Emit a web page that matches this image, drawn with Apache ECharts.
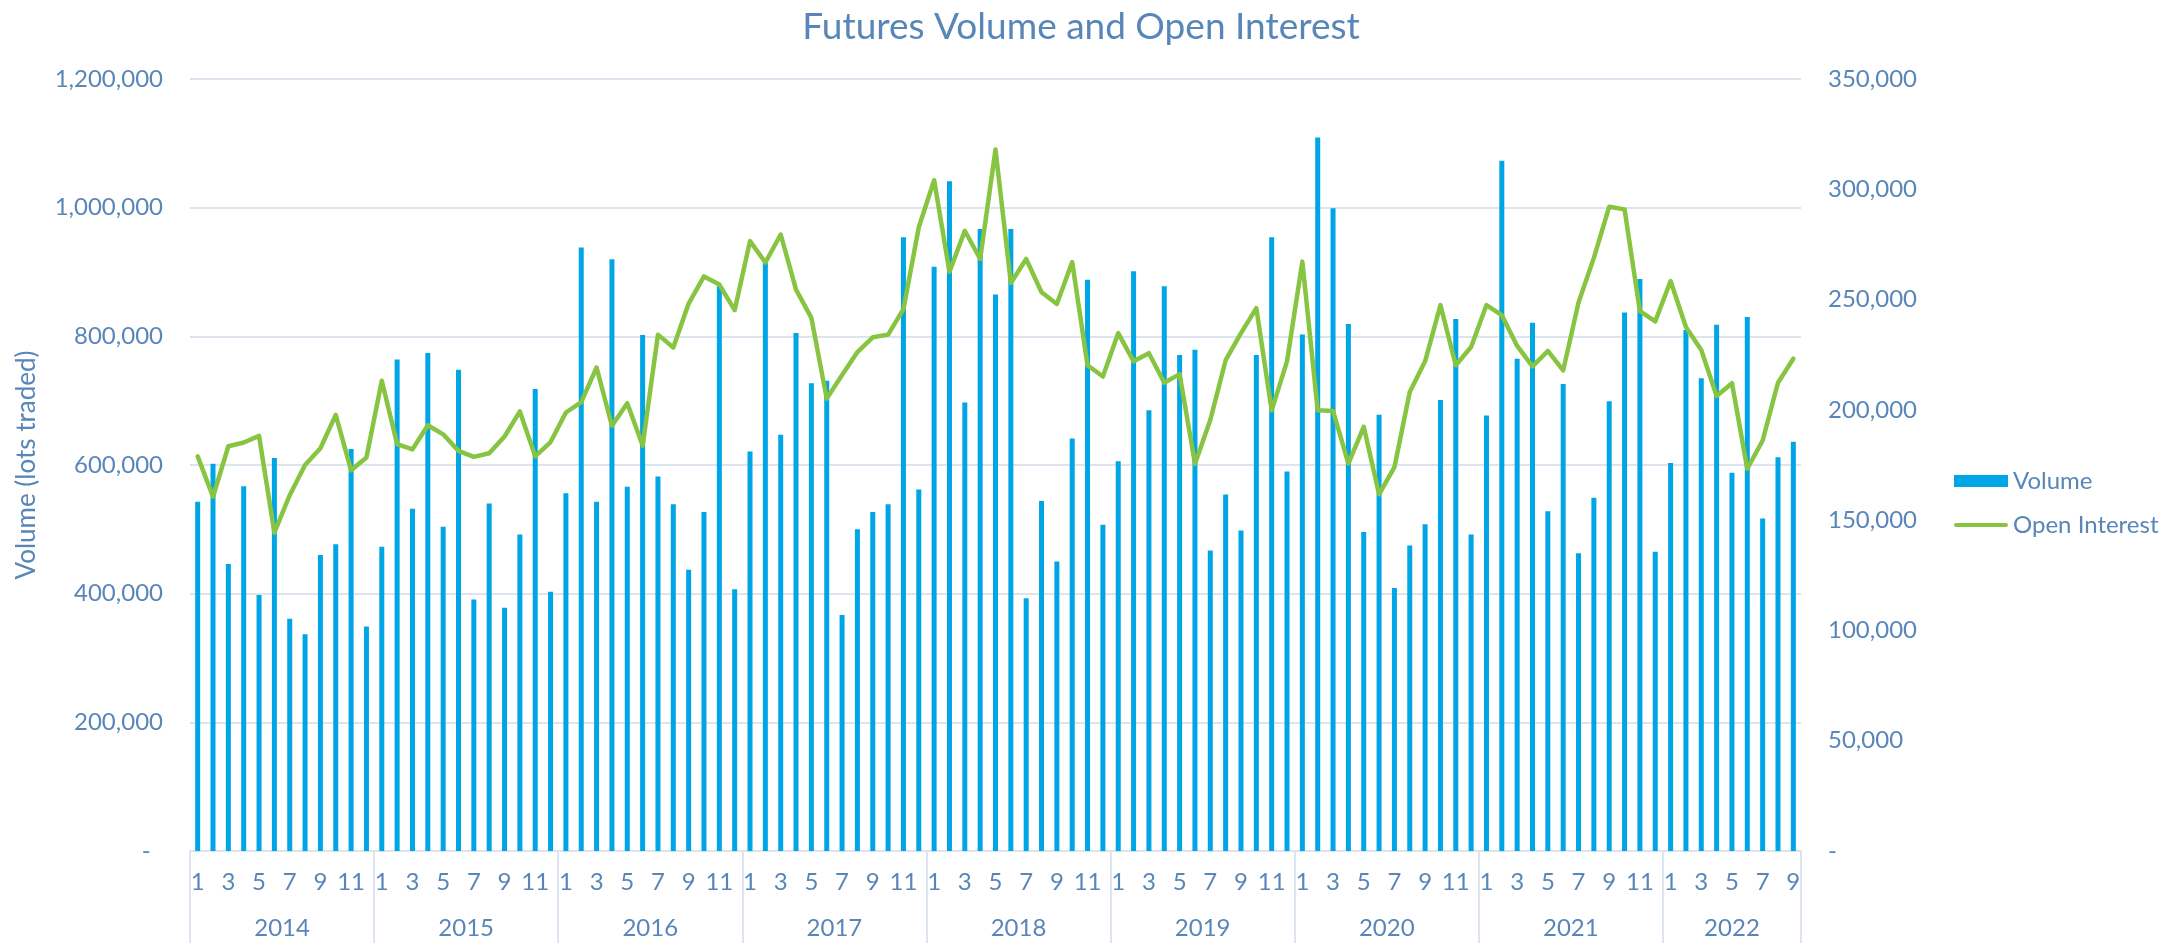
<!DOCTYPE html>
<html>
<head>
<meta charset="utf-8">
<title>Futures Volume and Open Interest</title>
<script src="https://cdn.jsdelivr.net/npm/echarts@6/dist/echarts.min.js"></script>
<style>
  html, body { margin: 0; padding: 0; background: #ffffff; }
  #chart { width: 2183px; height: 943px; }
</style>
</head>
<body>
<div id="chart"></div>
<script>
// Years covered and number of months reported in each
const years = [2014, 2015, 2016, 2017, 2018, 2019, 2020, 2021, 2022];
const monthsInYear = [12, 12, 12, 12, 12, 12, 12, 12, 9];

// Monthly futures volume (lots traded), Jan 2014 - Sep 2022
const volume2014 = [543000, 602000, 446000, 567000, 398000, 611000, 361000, 337000, 460000, 477000, 625000, 349000];
const volume2015 = [473000, 764000, 532000, 774000, 504000, 748000, 391000, 540000, 378000, 492000, 718000, 403000];
const volume2016 = [556000, 938000, 543000, 920000, 566000, 802000, 582000, 539000, 437000, 527000, 878000, 407000];
const volume2017 = [621000, 914000, 647000, 805000, 727000, 731000, 367000, 500000, 527000, 539000, 954000, 562000];
const volume2018 = [908000, 1041000, 697000, 967000, 865000, 967000, 393000, 544000, 450000, 641000, 888000, 507000];
const volume2019 = [606000, 901000, 685000, 878000, 771000, 779000, 467000, 554000, 498000, 771000, 954000, 590000];
const volume2020 = [803000, 1109000, 999000, 819000, 496000, 678000, 409000, 475000, 508000, 701000, 827000, 492000];
const volume2021 = [677000, 1073000, 765000, 821000, 528000, 726000, 463000, 549000, 699000, 837000, 889000, 465000];
const volume2022 = [603000, 810000, 735000, 818000, 588000, 830000, 517000, 612000, 636000];

// Month-end open interest, Jan 2014 - Sep 2022
const openInterest2014 = [178900, 160600, 183500, 185200, 188200, 144300, 161300, 175000, 182600, 197700, 172600, 178400];
const openInterest2015 = [213200, 184500, 182100, 193000, 188900, 181400, 178700, 180300, 187900, 199300, 178900, 185400];
const openInterest2016 = [198800, 203500, 219200, 192800, 203000, 183800, 234100, 228300, 248200, 260500, 256800, 245200];
const openInterest2017 = [276500, 266800, 279500, 254500, 241700, 205100, 215800, 226200, 232900, 234100, 245700, 282800];
const openInterest2018 = [304100, 262600, 281200, 268400, 318000, 257500, 268400, 253300, 248000, 267000, 220200, 215100];
const openInterest2019 = [234800, 222000, 225700, 212300, 216200, 175600, 195400, 222500, 234800, 246100, 199800, 222000];
const openInterest2020 = [267200, 199800, 199500, 175600, 192300, 161700, 174000, 208100, 222000, 247500, 220200, 228500];
const openInterest2021 = [247500, 242900, 229000, 219700, 226700, 217900, 248700, 268900, 292100, 290900, 244800, 240100];
const openInterest2022 = [258400, 237600, 227100, 206300, 212100, 173300, 186100, 212300, 223200];

// Axis tick values
const volumeTicks = [0, 200000, 400000, 600000, 800000, 1000000, 1200000];
const interestTicks = [0, 50000, 100000, 150000, 200000, 250000, 300000, 350000];

const volume = [].concat(volume2014, volume2015, volume2016, volume2017, volume2018,
  volume2019, volume2020, volume2021, volume2022);
const openInterest = [].concat(openInterest2014, openInterest2015, openInterest2016, openInterest2017,
  openInterest2018, openInterest2019, openInterest2020, openInterest2021, openInterest2022);

// Two-level category labels: month number, and the year it belongs to
const monthLabels = [];
const yearLabels = [];
const yearLabelAt = {};   // index -> { year, between } where the year label is drawn
years.forEach(function (y, k) {
  const start = monthLabels.length;
  const n = monthsInYear[k];
  for (let m = 1; m <= n; m++) {
    monthLabels.push(String(m));
    yearLabels.push(String(y));
  }
  if (n % 2 === 0) {
    yearLabelAt[start + n / 2] = { year: String(y), between: true };
  } else {
    yearLabelAt[start + (n - 1) / 2] = { year: String(y), between: false };
  }
});
const yearStart = {};
(function () {
  let s = 0;
  monthsInYear.forEach(function (n) { yearStart[s] = true; s += n; });
})();

const TEXT = '#5886B8';
const GRID = '#DBE4EF';
const FONT = 'Lato';
const W = 2183;
const gridLeft = 190, gridRight = 382;
const band = (W - gridLeft - gridRight) / monthLabels.length;

function thousands(v) {
  return v.toLocaleString('en-US');
}

const chart = echarts.init(document.getElementById('chart'), null, { renderer: 'canvas' });

chart.setOption({
  animation: false,
  backgroundColor: '#ffffff',
  title: {
    text: 'Futures Volume and Open Interest',
    left: 1076,
    top: 4,
    textAlign: 'center',
    textStyle: { fontFamily: FONT, fontSize: 37, fontWeight: 'normal', color: TEXT }
  },
  legend: {
    orient: 'vertical',
    left: 1949,
    top: 464,
    itemWidth: 54,
    itemHeight: 12,
    itemGap: 20,
    textStyle: { fontFamily: FONT, fontSize: 24, color: TEXT },
    data: [
      { name: 'Volume', icon: 'rect' },
      // thick rounded stroke for the line series key
      { name: 'Open Interest', icon: 'path://M2.2,0 L53.8,0 A2.2,2.2 0 0 1 53.8,4.4 L2.2,4.4 A2.2,2.2 0 0 1 2.2,0 Z' }
    ]
  },
  grid: {
    left: gridLeft,
    right: gridRight,
    top: 79,
    bottom: 92,
    containLabel: false,
    outerBoundsMode: 'none'
  },
  xAxis: [
    {
      type: 'category',
      position: 'bottom',
      data: monthLabels,
      boundaryGap: true,
      axisLine: { show: true, lineStyle: { color: GRID, width: 2 } },
      axisTick: {
        show: true,
        interval: function (index) { return yearStart[index] === true; },
        length: 92,
        lineStyle: { color: GRID, width: 2 }
      },
      axisLabel: {
        interval: 1,
        margin: 19,
        fontFamily: FONT,
        fontSize: 24,
        color: TEXT
      },
      splitLine: { show: false }
    },
    {
      type: 'category',
      position: 'bottom',
      data: yearLabels,
      boundaryGap: true,
      axisLine: { show: false },
      axisTick: { show: false },
      splitLine: { show: false },
      axisLabel: {
        interval: 0,
        margin: 65,
        fontFamily: FONT,
        fontSize: 24,
        color: TEXT,
        formatter: function (value, index) {
          const lab = yearLabelAt[index];
          if (!lab) return '';
          return lab.between ? '{s|' + lab.year + '}' : '{c|' + lab.year + '}';
        },
        rich: {
          s: { fontFamily: FONT, fontSize: 24, color: TEXT, padding: [0, band, 0, 0] },
          c: { fontFamily: FONT, fontSize: 24, color: TEXT }
        }
      }
    }
  ],
  yAxis: [
    {
      type: 'value',
      position: 'left',
      min: volumeTicks[0],
      max: volumeTicks[volumeTicks.length - 1],
      interval: volumeTicks[1] - volumeTicks[0],
      name: 'Volume (lots traded)',
      nameLocation: 'middle',
      nameRotate: 90,
      nameGap: 150,
      nameTextStyle: { fontFamily: FONT, fontSize: 26, color: TEXT },
      axisLine: { show: false },
      axisTick: { show: false },
      axisLabel: {
        margin: 27,
        fontFamily: FONT,
        fontSize: 24,
        color: TEXT,
        formatter: function (v) { return v === 0 ? '-  ' : thousands(v); }
      },
      splitLine: { show: true, lineStyle: { color: GRID, width: 2 } }
    },
    {
      type: 'value',
      position: 'right',
      min: interestTicks[0],
      max: interestTicks[interestTicks.length - 1],
      interval: interestTicks[1] - interestTicks[0],
      axisLine: { show: false },
      axisTick: { show: false },
      splitLine: { show: false },
      axisLabel: {
        margin: 27,
        fontFamily: FONT,
        fontSize: 24,
        color: TEXT,
        formatter: function (v) { return v === 0 ? '-' : thousands(v); }
      }
    }
  ],
  series: [
    {
      name: 'Volume',
      type: 'bar',
      xAxisIndex: 0,
      yAxisIndex: 0,
      data: volume,
      barWidth: 5,
      itemStyle: { color: '#00A5E6' },
      z: 2
    },
    {
      name: 'Open Interest',
      type: 'line',
      xAxisIndex: 0,
      yAxisIndex: 1,
      data: openInterest,
      symbol: 'none',
      smooth: false,
      lineStyle: { color: '#86C441', width: 4.5, join: 'round', cap: 'round' },
      itemStyle: { color: '#86C441' },
      z: 3
    }
  ]
});
</script>
</body>
</html>
